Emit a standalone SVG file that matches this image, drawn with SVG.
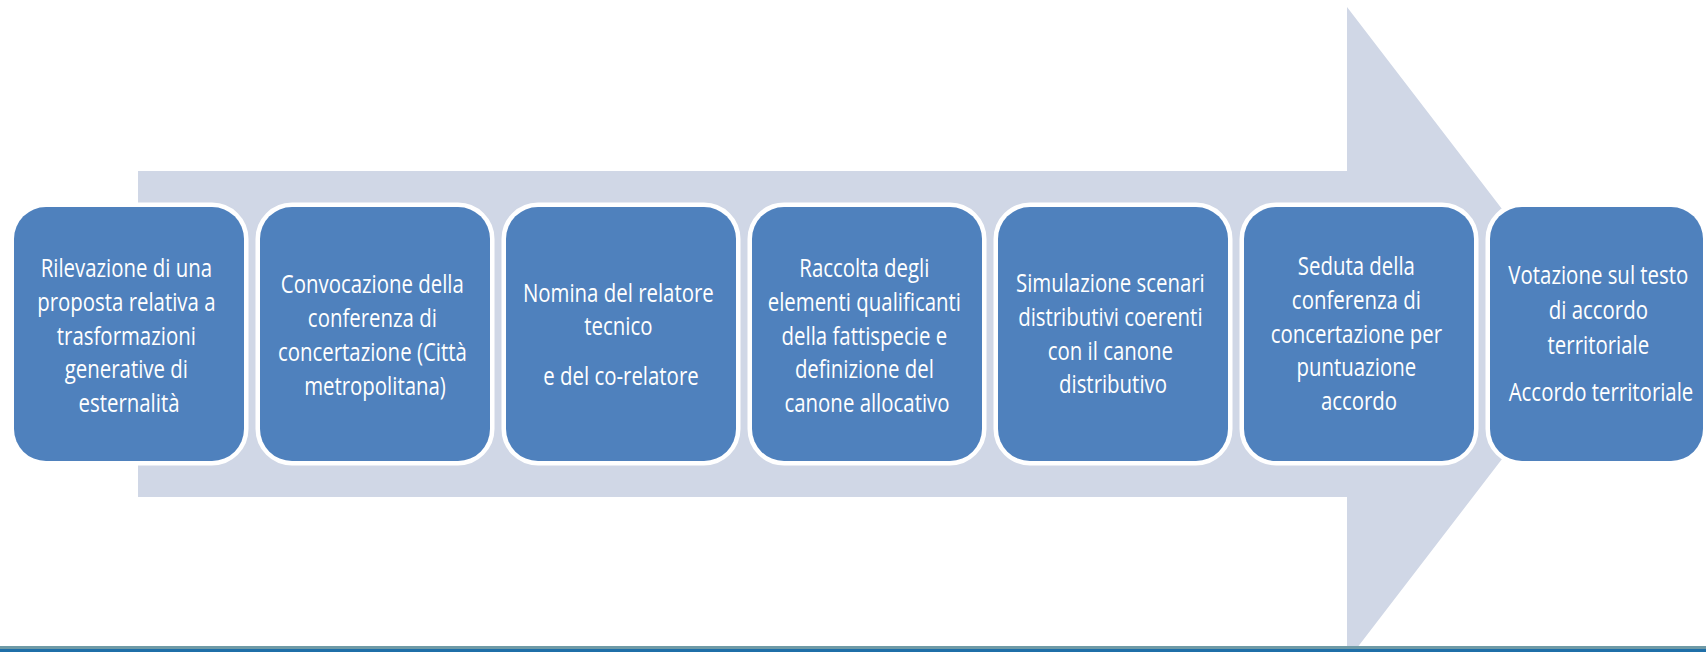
<svg xmlns="http://www.w3.org/2000/svg" width="1706" height="652" viewBox="0 0 1706 652">
  <style>
    .box { fill: #4f81bd; stroke: #ffffff; stroke-width: 9; paint-order: stroke; }
    .lbl { font-family: "Open Sans", "Liberation Sans", sans-serif; font-size: 26px; fill: #ffffff; text-anchor: middle; }
  </style>
  <rect width="1706" height="652" fill="#ffffff"/>
  <g id="arrow">
    <polygon points="138,171 1347,171 1347,7 1598,334 1347,661 1347,497 138,497" fill="#d0d7e6"/>
  </g>
  <g id="connectors"></g>
  <g id="node1">
    <rect class="box" x="14" y="207" width="230" height="254" rx="32"/>
    <text class="lbl" transform="translate(129 0) scale(0.785 1)">
      <tspan x="0" y="277.5">Rilevazione di una</tspan>
      <tspan x="0" y="311.1">proposta relativa a</tspan>
      <tspan x="0" y="344.7">trasformazioni</tspan>
      <tspan x="0" y="378.3">generative di</tspan>
      <tspan x="0" y="411.9">esternalità</tspan>
    </text>
  </g>
  <g id="node2">
    <rect class="box" x="260" y="207" width="230" height="254" rx="32"/>
    <text class="lbl" transform="translate(375 0) scale(0.785 1)">
      <tspan x="0" y="293.5">Convocazione della</tspan>
      <tspan x="0" y="327.5">conferenza di</tspan>
      <tspan x="0" y="361.5">concertazione (Città</tspan>
      <tspan x="0" y="395.5">metropolitana)</tspan>
    </text>
  </g>
  <g id="node3">
    <rect class="box" x="506" y="207" width="230" height="254" rx="32"/>
    <text class="lbl" transform="translate(621 0) scale(0.785 1)">
      <tspan x="0" y="302.5">Nomina del relatore</tspan>
      <tspan x="0" y="335.5">tecnico</tspan>
      <tspan x="0" y="385.5">e del co-relatore</tspan>
    </text>
  </g>
  <g id="node4">
    <rect class="box" x="752" y="207" width="230" height="254" rx="32"/>
    <text class="lbl" transform="translate(867 0) scale(0.785 1)">
      <tspan x="0" y="277.5">Raccolta degli</tspan>
      <tspan x="0" y="311.1">elementi  qualificanti</tspan>
      <tspan x="0" y="344.7">della fattispecie e</tspan>
      <tspan x="0" y="378.3">definizione del</tspan>
      <tspan x="0" y="411.9">canone allocativo</tspan>
    </text>
  </g>
  <g id="node5">
    <rect class="box" x="998" y="207" width="230" height="254" rx="32"/>
    <text class="lbl" transform="translate(1113 0) scale(0.785 1)">
      <tspan x="0" y="292.5">Simulazione scenari</tspan>
      <tspan x="0" y="326.5">distributivi coerenti</tspan>
      <tspan x="0" y="360.5">con il canone</tspan>
      <tspan x="0" y="393.5">distributivo</tspan>
    </text>
  </g>
  <g id="node6">
    <rect class="box" x="1244" y="207" width="230" height="254" rx="32"/>
    <text class="lbl" transform="translate(1359 0) scale(0.785 1)">
      <tspan x="0" y="275.5">Seduta della</tspan>
      <tspan x="0" y="309.1">conferenza di</tspan>
      <tspan x="0" y="342.7">concertazione per</tspan>
      <tspan x="0" y="376.3">puntuazione</tspan>
      <tspan x="0" y="409.9">accordo</tspan>
    </text>
  </g>
  <g id="node7">
    <rect class="box" x="1490" y="207" width="213" height="254" rx="32"/>
    <text class="lbl" transform="translate(1601 0) scale(0.785 1)">
      <tspan x="0" y="284.5">Votazione sul testo</tspan>
      <tspan x="0" y="319.5">di accordo</tspan>
      <tspan x="0" y="354.5">territoriale</tspan>
      <tspan x="0" y="401.5">Accordo territoriale</tspan>
    </text>
  </g>
  <g id="footer-line">
    <rect x="0" y="646" width="1706" height="3" fill="#6f9aa6"/>
    <rect x="0" y="649" width="1706" height="3" fill="#1f6fa8"/>
  </g>
</svg>
